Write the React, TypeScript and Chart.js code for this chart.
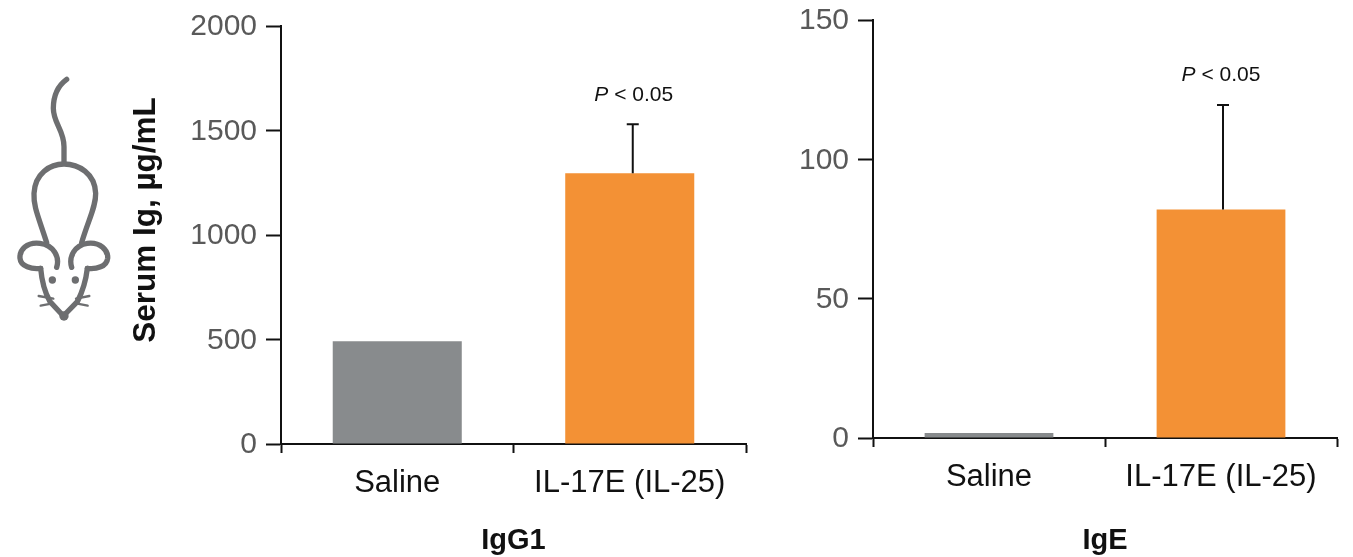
import React, { useEffect, useRef } from "react";
import { Chart, registerables } from "chart.js";

Chart.register(...registerables);

const categories = ["Saline", "IL-17E (IL-25)"];
const igG1Values = [492, 1295];
const igG1ErrorTops = [null, 1530];
const igG1Annotation = [null, 1670];
const igEValues = [1.8, 82];
const igEErrorTops = [null, 119.5];
const igEAnnotation = [null, 130.2];
const igG1Ticks = [0, 500, 1000, 1500, 2000];
const igETicks = [0, 50, 100, 150];
const barColors = ["#888B8D", "#F39135"];
const annotationText = "P";
const annotationRest = " < 0.05";
const yAxisTitle = "Serum Ig, µg/mL";
const FONT = "'Liberation Sans', Arial, sans-serif";

const errorPlugin = {
  id: "errorBars",
  afterDraw(chart: any, _a: any, opts: any) {
    const { ctx, scales } = chart;
    const meta = chart.getDatasetMeta(0);
    ctx.save();
    ctx.strokeStyle = "#111";
    ctx.lineWidth = 2;
    opts.tops.forEach((top: number | null, i: number) => {
      if (top == null) return;
      const x = meta.data[i].x + opts.shift;
      const y0 = scales.y.getPixelForValue(opts.values[i]);
      const y1 = scales.y.getPixelForValue(top);
      ctx.beginPath();
      ctx.moveTo(x, y0);
      ctx.lineTo(x, y1);
      ctx.moveTo(x - 6, y1);
      ctx.lineTo(x + 6, y1);
      ctx.stroke();
    });
    opts.notes.forEach((note: number | null, i: number) => {
      if (note == null) return;
      const x = meta.data[i].x + opts.shift + opts.noteShift;
      const y = scales.y.getPixelForValue(note);
      ctx.fillStyle = "#111";
      ctx.textBaseline = "middle";
      ctx.textAlign = "left";
      ctx.font = `italic 21px ${FONT}`;
      const w1 = ctx.measureText(annotationText).width;
      ctx.font = `21px ${FONT}`;
      const w2 = ctx.measureText(annotationRest).width;
      const start = x - (w1 + w2) / 2;
      ctx.font = `italic 21px ${FONT}`;
      ctx.fillText(annotationText, start, y);
      ctx.font = `21px ${FONT}`;
      ctx.fillText(annotationRest, start + w1, y);
    });
    if (opts.yTitle) {
      ctx.translate(opts.yTitle.x, opts.yTitle.y);
      ctx.rotate(-Math.PI / 2);
      ctx.font = `bold 31.5px ${FONT}`;
      ctx.fillStyle = "#111";
      ctx.textAlign = "center";
      ctx.textBaseline = "middle";
      ctx.fillText(yAxisTitle, 0, 0);
    }
    ctx.restore();
  },
};

function makeChart(
  canvas: HTMLCanvasElement,
  c: {
    values: number[];
    tops: (number | null)[];
    notes: (number | null)[];
    ticks: number[];
    max: number;
    title: string;
    yTitle?: { x: number; y: number };
    area: { left: number; right: number; top: number; bottom: number };
    shift: number;
    noteShift: number;
  }
) {
  const W = canvas.width;
  const H = canvas.height;
  return new Chart(canvas, {
    type: "bar",
    data: {
      labels: categories,
      datasets: [
        {
          data: c.values,
          backgroundColor: barColors,
          barPercentage: 0.555,
          categoryPercentage: 1,
        },
      ],
    },
    plugins: [errorPlugin],
    options: {
      responsive: false,
      animation: false,
      layout: {
        padding: { left: 0, right: W - c.area.right, top: c.area.top, bottom: 0 },
      },
      plugins: {
        legend: { display: false },
        tooltip: { enabled: false },
        errorBars: {
          tops: c.tops,
          notes: c.notes,
          values: c.values,
          shift: c.shift,
          noteShift: c.noteShift,
          yTitle: c.yTitle,
        },
      } as any,
      scales: {
        x: {
          afterFit(s: any) {
            s.height = H - c.area.bottom;
            s.paddingLeft = 0;
            s.paddingRight = 0;
          },
          grid: { drawOnChartArea: false, tickLength: 9, tickColor: "#111", tickWidth: 2 },
          border: { display: true, color: "#111", width: 2 },
          ticks: { color: "#111", font: { family: FONT, size: 31 }, padding: 12, maxRotation: 0 },
          title: {
            display: true,
            text: c.title,
            color: "#111",
            font: { family: FONT, size: 29, weight: "bold" },
            padding: { top: 0, bottom: -1 },
          },
        },
        y: {
          min: 0,
          max: c.max,
          afterFit(s: any) {
            s.width = c.area.left;
            s.paddingTop = 0;
            s.paddingBottom = 0;
          },
          afterBuildTicks(s: any) {
            s.ticks = c.ticks.map((value) => ({ value }));
          },
          grid: { drawOnChartArea: false, tickLength: 15, tickColor: "#111", tickWidth: 2 },
          border: { display: true, color: "#111", width: 2 },
          ticks: {
            color: "#595959",
            font: { family: FONT, size: 30 },
            padding: 9,
            labelOffset: 1,
            callback: (v: any) => String(v),
          },
        },
      },
    } as any,
  });
}

function Mouse() {
  const common = { fill: "none", stroke: "#6d6e70", strokeWidth: 16, strokeLinecap: "round" as const };
  return (
    <svg
      width={170}
      height={280}
      viewBox="0 0 510 840"
      style={{ position: "absolute", left: 0, top: 60 }}
    >
      <path {...common} d="M200 58 C170 80 160 110 160 145 C160 190 192 210 192 260 L192 310" />
      <path {...common} d="M140 548 C115 470 100 440 102 400 C105 340 150 312 192 312 C235 312 285 340 287 400 C288 440 265 480 245 548" />
      <path {...common} d="M170 622 C180 590 160 555 120 550 C80 545 58 570 60 595 C62 620 95 628 122 625" />
      <path {...common} d="M215 622 C205 590 225 555 262 550 C300 545 325 570 323 595 C320 620 290 628 262 625" />
      <path {...common} d="M122 625 C125 660 130 690 150 725 L190 768 L232 725 C250 690 258 660 262 625" />
      <path {...common} strokeWidth={7} d="M116 708 L160 716 M122 737 L158 730 M268 708 L228 716 M263 737 L228 730" />
      <circle cx={157} cy={660} r={11} fill="#6d6e70" />
      <circle cx={226} cy={660} r={11} fill="#6d6e70" />
      <circle cx={192} cy={768} r={14} fill="#6d6e70" />
    </svg>
  );
}

export default function App() {
  const leftRef = useRef<HTMLCanvasElement>(null);
  const rightRef = useRef<HTMLCanvasElement>(null);

  useEffect(() => {
    const a = makeChart(leftRef.current!, {
      values: igG1Values,
      tops: igG1ErrorTops,
      notes: igG1Annotation,
      ticks: igG1Ticks,
      max: 2000,
      title: "IgG1",
      yTitle: { x: 146, y: 220 },
      area: { left: 281, right: 746, top: 26, bottom: 444 },
      shift: 3,
      noteShift: 1,
    });
    const b = makeChart(rightRef.current!, {
      values: igEValues,
      tops: igEErrorTops,
      notes: igEAnnotation,
      ticks: igETicks,
      max: 150,
      title: "IgE",
      area: { left: 873 - 770, right: 1337 - 770, top: 20, bottom: 438 },
      shift: 2,
      noteShift: -2,
    });
    return () => {
      a.destroy();
      b.destroy();
    };
  }, []);

  return (
    <div style={{ position: "fixed", left: 0, top: 0, width: 1353, height: 557, background: "#fff", overflow: "hidden" }}>
      <Mouse />
      <canvas ref={leftRef} width={770} height={557} style={{ position: "absolute", left: 0, top: 0 }} />
      <canvas ref={rightRef} width={583} height={557} style={{ position: "absolute", left: 770, top: 0 }} />
    </div>
  );
}
